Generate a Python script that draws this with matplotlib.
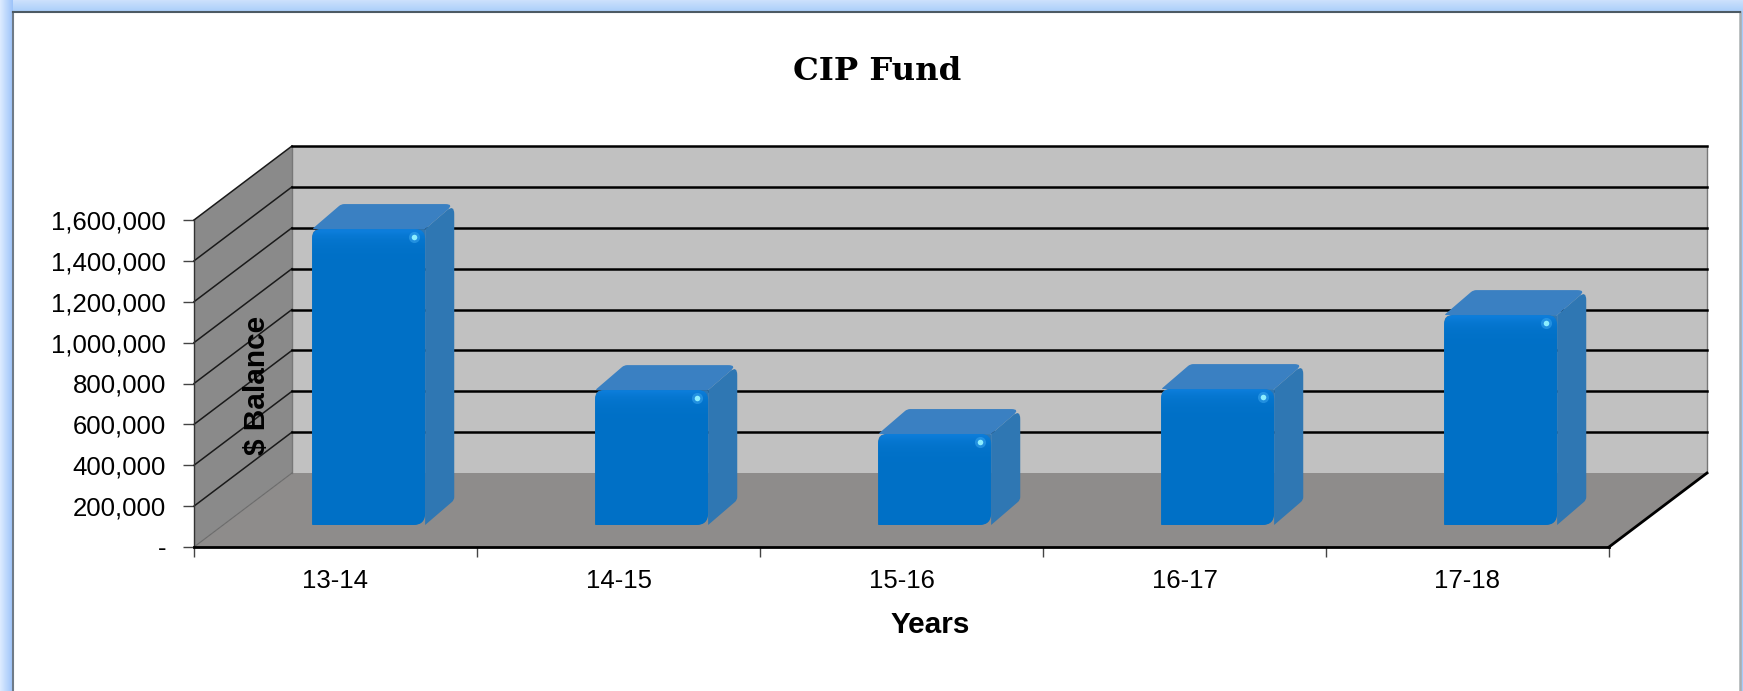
"""CIP Fund balance by year, Excel style 3D columns."""
import matplotlib
matplotlib.use('Agg')
import matplotlib.pyplot as plt
from matplotlib.patches import Polygon, PathPatch
from matplotlib.path import Path
import numpy as np

YEARS = ['13-14', '14-15', '15-16', '16-17', '17-18']
BALANCE = [1448000, 660000, 445000, 665000, 1027000]
Y_TICKS = [0, 200000, 400000, 600000, 800000, 1000000, 1200000, 1400000, 1600000]
Y_LABELS = ['-', '200,000', '400,000', '600,000', '800,000', '1,000,000',
            '1,200,000', '1,400,000', '1,600,000']

W, H = 1743, 691
# front plane of the plot in pixels
X0, X1, Y_BOT, Y_TOP = 194, 1609, 547, 220
PX_X = (X1 - X0) / len(YEARS)
PX_Y = (Y_BOT - Y_TOP) / Y_TICKS[-1]
# depth of the box as axis units
DX = 98 / PX_X
DY = 74 / PX_Y

plt.rcParams['font.family'] = ['Liberation Sans', 'DejaVu Sans']

fig = plt.figure(figsize=(W / 100, H / 100), dpi=100, facecolor='#b2d1fa')

# blue window glow behind the white panel
bg = fig.add_axes([0, 0, 1, 1], zorder=-2)
bg.axis('off')
glow = np.ones((H, W, 3)) * [0.66, 0.80, 0.98]
glow[:12, :] = np.linspace([0.80, 0.88, 0.99], [0.67, 0.81, 0.98], 12)[:, None, :]
glow[:, :13] = np.linspace([0.86, 0.92, 1.0], [0.62, 0.77, 0.98], 13)[None, :, :]
bg.imshow(glow, aspect='auto', interpolation='bilinear')

panel = fig.add_axes([13 / W, 0, (1740 - 13) / W, 1 - 12 / H], zorder=-1)
panel.set_xticks([])
panel.set_yticks([])
panel.set_facecolor('white')
for s, c, w in (('top', '#4c5a64', 1.5), ('left', '#6f7b88', 1.5),
                ('right', '#a8aeb0', 1.8), ('bottom', 'white', 0)):
    panel.spines[s].set_color(c)
    panel.spines[s].set_linewidth(w)

ax = fig.add_axes([X0 / W, 1 - Y_BOT / H, (X1 - X0) / W, (Y_BOT - Y_TOP) / H])
ax.set_facecolor('none')
ax.set_xlim(0, len(YEARS))
ax.set_ylim(0, Y_TICKS[-1])


def depth(x, y, d):
    return x + d * DX, y + d * DY


def rounded(pts, radii):
    """Path for a polygon given in data units, radii in pixels."""
    pts = np.array(pts, dtype=float)
    n = len(pts)
    verts, codes = [], []
    for i in range(n):
        p, a, b = pts[i], pts[i - 1], pts[(i + 1) % n]
        r = radii[i]
        da = (a - p) * [PX_X, PX_Y]
        db = (b - p) * [PX_X, PX_Y]
        s = p + (a - p) * r / max(np.hypot(*da), 1e-6)
        e = p + (b - p) * r / max(np.hypot(*db), 1e-6)
        verts += [s, p, e]
        codes += [Path.MOVETO if i == 0 else Path.LINETO, Path.CURVE3, Path.CURVE3]
    verts.append(verts[0])
    codes.append(Path.CLOSEPOLY)
    return Path(verts, codes)


# walls and floor
xmax = len(YEARS)
ymax = Y_TICKS[-1]
ax.add_patch(Polygon([depth(0, 0, 0), depth(0, 0, 1), depth(0, ymax, 1), depth(0, ymax, 0)],
                     fc='#8a8a8a', ec='none', clip_on=False, zorder=1))
ax.add_patch(Polygon([depth(0, 0, 1), depth(xmax, 0, 1), depth(xmax, ymax, 1), depth(0, ymax, 1)],
                     fc='#c1c1c1', ec='none', clip_on=False, zorder=1))
ax.add_patch(Polygon([depth(0, 0, 0), depth(xmax, 0, 0), depth(xmax, 0, 1), depth(0, 0, 1)],
                     fc='#8e8c8b', ec='none', clip_on=False, zorder=1))
# wall edges
ax.plot(*zip(depth(0, 0, 1), depth(0, ymax, 1)), color='#777777', lw=1, clip_on=False, zorder=2)
ax.plot(*zip(depth(xmax, 0, 1), depth(xmax, ymax, 1)), color='#777777', lw=1, clip_on=False, zorder=2)
ax.plot(*zip(depth(0, 0, 0), depth(0, 0, 1)), color='#6a6a6a', lw=0.8, clip_on=False, zorder=2)
ax.plot(*zip(depth(xmax, 0, 0), depth(xmax, 0, 1)), color='black', lw=2, clip_on=False, zorder=2)
# gridlines
for v in Y_TICKS[1:]:
    ax.plot(*zip(depth(0, v, 0), depth(0, v, 1)), color='#1a1a1a', lw=1.1, clip_on=False, zorder=2)
    ax.plot(*zip(depth(0, v, 1), depth(xmax, v, 1)), color='black', lw=1.8, clip_on=False, zorder=2)

# columns
BAR_W = 113 / PX_X
BAR_SHIFT = 4 / PX_X
BACK_TRIM = 4 / PX_X        # back edge of a column leans a little less than the box
BAR_D0 = 22 / (DY * PX_Y)   # front of the column sits this far into the floor
BAR_D = 25 / (DY * PX_Y)    # column depth as a fraction of box depth
for i, v in enumerate(BALANCE):
    lo = i + 0.5 - BAR_W / 2 + BAR_SHIFT
    hi = i + 0.5 + BAR_W / 2 + BAR_SHIFT
    f0 = [depth(lo, 0, BAR_D0), depth(hi, 0, BAR_D0), depth(hi, v, BAR_D0), depth(lo, v, BAR_D0)]
    d1 = BAR_D0 + BAR_D
    side = [depth(hi, 0, BAR_D0), depth(hi - BACK_TRIM, 0, d1), depth(hi - BACK_TRIM, v, d1), depth(hi, v, BAR_D0)]
    top = [depth(lo, v, BAR_D0), depth(hi, v, BAR_D0), depth(hi - BACK_TRIM, v, d1), depth(lo - BACK_TRIM, v, d1)]
    # fills the notches the rounded face corners leave against top and side
    ax.add_patch(PathPatch(rounded(f0, [1, 12, 1, 8]), fc='#2f77b3', ec='none', clip_on=False, zorder=3))
    ax.add_patch(PathPatch(rounded(top, [2, 0, 9, 3]), fc='#3a80c2', ec='none', clip_on=False, zorder=3))
    ax.add_patch(PathPatch(rounded(side, [0, 3, 10, 0]), fc='#2f77b3', ec='none', clip_on=False, zorder=3))
    face = PathPatch(rounded(f0, [1, 12, 10, 10]), fc='#0070c6', ec='none', clip_on=False, zorder=4)
    ax.add_patch(face)
    # lighter band along the top of the front face
    shade = np.zeros((64, 2, 4))
    px = np.linspace(0, (f0[2][1] - f0[0][1]) * PX_Y, 64)
    shade[..., :3] = [0.1, 0.55, 0.95]
    shade[..., 3] = (0.5 * np.exp(-px / 9))[:, None]
    img = ax.imshow(shade, extent=(f0[0][0], f0[1][0], f0[0][1], f0[2][1]), origin='upper',
                    aspect='auto', zorder=5, interpolation='bilinear')
    img.set_clip_path(face)
    # specular spot
    hx, hy = f0[2][0] - 11 / PX_X, f0[2][1] - 8 / PX_Y
    ax.plot([hx], [hy], 'o', ms=8, color='#3aa6ee', alpha=0.55, mew=0, clip_on=False, zorder=6)
    ax.plot([hx], [hy], 'o', ms=4, color='#8ceeff', mew=0, clip_on=False, zorder=6)

ax.set_xlim(0, xmax)
ax.set_ylim(0, ymax)

# axes
for s in ('top', 'right'):
    ax.spines[s].set_visible(False)
ax.spines['left'].set_color('#333333')
ax.spines['left'].set_linewidth(1)
ax.spines['bottom'].set_color('black')
ax.spines['bottom'].set_linewidth(2)
ax.spines['left'].set_zorder(7)
ax.spines['bottom'].set_zorder(7)
ax.set_yticks(Y_TICKS)
ax.set_yticklabels(Y_LABELS, fontsize=18.5, color='black')
ax.tick_params(axis='y', length=8, width=1, color='#444444', pad=12)
ax.set_xticks(np.arange(xmax + 1))
ax.set_xticklabels([])
ax.set_xticks(np.arange(xmax) + 0.5, minor=True)
ax.set_xticklabels(YEARS, minor=True, fontsize=18.5)
ax.tick_params(axis='x', which='major', length=7, width=1, color='#444444')
ax.tick_params(axis='x', which='minor', length=0, pad=16)

fig.text(877 / W, 1 - 71 / H, 'CIP Fund', family='DejaVu Serif', fontweight='bold', fontsize=23.3,
         ha='center', va='center')
fig.text(930 / W, 1 - 625 / H, 'Years', fontweight='bold', fontsize=21.4, ha='center', va='center')
fig.text(257 / W, 1 - 385 / H, '$ Balance', fontweight='bold', fontsize=21.4, rotation=90,
         ha='center', va='center', zorder=10)

fig.savefig('out.png', dpi=100, facecolor=fig.get_facecolor())
